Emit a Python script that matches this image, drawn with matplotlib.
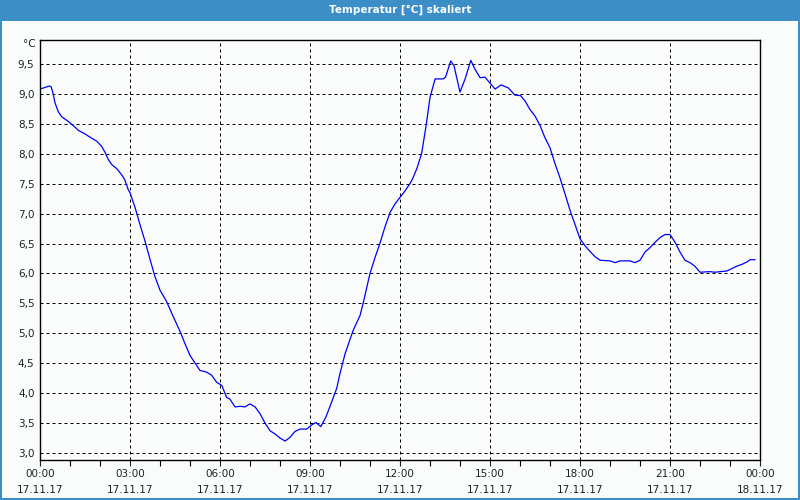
import datetime as dt
import matplotlib
matplotlib.use("Agg")
import matplotlib.pyplot as plt
import matplotlib.dates as mdates
from matplotlib.patches import Rectangle
from matplotlib.ticker import FixedLocator, FuncFormatter

title = "Temperatur [°C] skaliert"
unit_label = "°C"
start_day = "2017-11-17"

hours = [0.0, 0.30, 0.37, 0.44, 0.5, 0.61, 0.72, 0.94, 1.11, 1.28, 1.5, 1.72, 1.89,
         2.06, 2.17, 2.28, 2.39, 2.56, 2.72, 2.83, 2.94, 3.0, 3.17, 3.33, 3.5, 3.67,
         3.83, 4.0, 4.22, 4.44, 4.67, 4.83, 5.0, 5.17, 5.33, 5.56, 5.72, 5.89, 6.06,
         6.22, 6.33, 6.5, 6.67, 6.83, 7.0, 7.17, 7.33, 7.5, 7.67, 7.83, 8.0, 8.17,
         8.33, 8.5, 8.67, 8.89, 9.06, 9.2, 9.36, 9.53, 9.72, 9.89, 10.0, 10.17,
         10.44, 10.67, 10.78, 11.0, 11.17, 11.33, 11.5, 11.67, 11.83, 12.0, 12.17,
         12.33, 12.41, 12.56, 12.72, 12.87, 13.0, 13.17, 13.44, 13.52, 13.69, 13.8,
         14.0, 14.17, 14.36, 14.5, 14.67, 14.83, 15.0, 15.17, 15.37, 15.61, 15.83,
         16.02, 16.17, 16.33, 16.5, 16.67, 16.83, 17.0, 17.17, 17.33, 17.5, 17.67,
         17.83, 18.0, 18.17, 18.33, 18.5, 18.67, 19.0, 19.17, 19.33, 19.67, 19.83,
         20.0, 20.17, 20.33, 20.5, 20.67, 20.83, 21.0, 21.17, 21.33, 21.5, 21.67,
         21.83, 22.0, 22.33, 22.5, 22.67, 22.89, 23.06, 23.22, 23.39, 23.56, 23.67,
         23.83]
temps = [9.08, 9.13, 9.12, 9.0, 8.85, 8.7, 8.62, 8.54, 8.47, 8.39, 8.33, 8.26, 8.21,
         8.12, 8.02, 7.9, 7.82, 7.75, 7.65, 7.56, 7.4, 7.35, 7.1, 6.82, 6.54, 6.23,
         5.95, 5.72, 5.53, 5.28, 5.03, 4.83, 4.63, 4.5, 4.38, 4.35, 4.3, 4.18, 4.13,
         3.93, 3.9, 3.77, 3.78, 3.77, 3.82, 3.77, 3.66, 3.5, 3.37, 3.32, 3.25, 3.2,
         3.26, 3.36, 3.4, 3.4, 3.47, 3.51, 3.44, 3.6, 3.85, 4.08, 4.33, 4.66,
         5.05, 5.3, 5.52, 6.0, 6.27, 6.5, 6.78, 7.02, 7.16, 7.27, 7.38,
         7.5, 7.57, 7.75, 8.0, 8.47, 8.94, 9.25, 9.25, 9.28, 9.55, 9.47,
         9.03, 9.25, 9.56, 9.41, 9.27, 9.28, 9.18, 9.08, 9.15, 9.1, 8.98,
         8.97, 8.88, 8.74, 8.63, 8.47, 8.27, 8.1, 7.83, 7.6, 7.33, 7.05,
         6.82, 6.58, 6.46, 6.37, 6.28, 6.22, 6.21, 6.18, 6.21, 6.21, 6.18,
         6.22, 6.36, 6.43, 6.52, 6.6, 6.65, 6.65, 6.52, 6.36, 6.22, 6.18,
         6.12, 6.02, 6.03, 6.02, 6.03, 6.04, 6.08, 6.12, 6.15, 6.19, 6.23,
         6.23]
y_ticks = [3.0, 3.5, 4.0, 4.5, 5.0, 5.5, 6.0, 6.5, 7.0, 7.5, 8.0, 8.5, 9.0, 9.5]

base = dt.datetime.fromisoformat(start_day)
times = [base + dt.timedelta(hours=h) for h in hours]

bg = "#F9FCFB"
blue_bar = "#3C8FC6"

fig = plt.figure(figsize=(8, 5), dpi=100, facecolor=bg)

# title bar and window border
fig.patches.append(Rectangle((0, 1 - 21 / 500), 1, 21 / 500, transform=fig.transFigure,
                             facecolor=blue_bar, edgecolor="none", zorder=0))
for rect in [(0, 0, 2 / 800, 1), (1 - 2 / 800, 0, 2 / 800, 1), (0, 0, 1, 2 / 500)]:
    fig.patches.append(Rectangle(rect[:2], rect[2], rect[3], transform=fig.transFigure,
                                 facecolor=blue_bar, edgecolor="none", zorder=0))
fig.text(0.5, 1 - 9.5 / 500, title, color="white", fontsize=7.5, fontweight="bold",
         ha="center", va="center")

ax = fig.add_axes([40 / 800, 40 / 500, 720 / 800, 420 / 500])
ax.set_facecolor(bg)
ax.plot(mdates.date2num(times), temps, color="#0000FF", lw=0.9)

x0 = mdates.date2num(base)
x1 = mdates.date2num(base + dt.timedelta(hours=24))
ax.set_xlim(x0, x1)
ax.set_ylim(2.883, 9.90)

major = [mdates.date2num(base + dt.timedelta(hours=3 * i)) for i in range(9)]
minor = [mdates.date2num(base + dt.timedelta(hours=i)) for i in range(25) if i % 3]
ax.xaxis.set_major_locator(FixedLocator(major))
ax.xaxis.set_minor_locator(FixedLocator(minor))
ax.xaxis.set_major_formatter(mdates.DateFormatter("%H:%M\n%d.%m.%y"))
ax.set_yticks(y_ticks)
ax.yaxis.set_major_formatter(FuncFormatter(lambda v, p: f"{v:.1f}".replace(".", ",")))

for y in y_ticks:
    ax.axhline(y, color="black", lw=0.72, linestyle=(0, (3, 3)), zorder=1)
for xm in major[1:-1]:
    ax.axvline(xm, color="black", lw=0.72, linestyle=(0, (3, 3)), zorder=1)

ax.tick_params(axis="x", which="major", length=4, width=0.8, direction="out",
               labelsize=7.5, colors="#222222", pad=2.5)
ax.tick_params(axis="x", which="minor", length=4, width=0.8, direction="out")
ax.tick_params(axis="y", length=0, labelsize=7.5, labelcolor="#222222", pad=4)
for lbl in ax.get_xticklabels():
    lbl.set_linespacing(1.75)

for s in ax.spines.values():
    s.set_linewidth(1.0)
    s.set_color("black")

fig.text(36 / 800, 1 - 44 / 500, unit_label, fontsize=7.5, color="#222222",
         ha="right", va="center")

fig.savefig("out.png", dpi=100, facecolor=bg)
